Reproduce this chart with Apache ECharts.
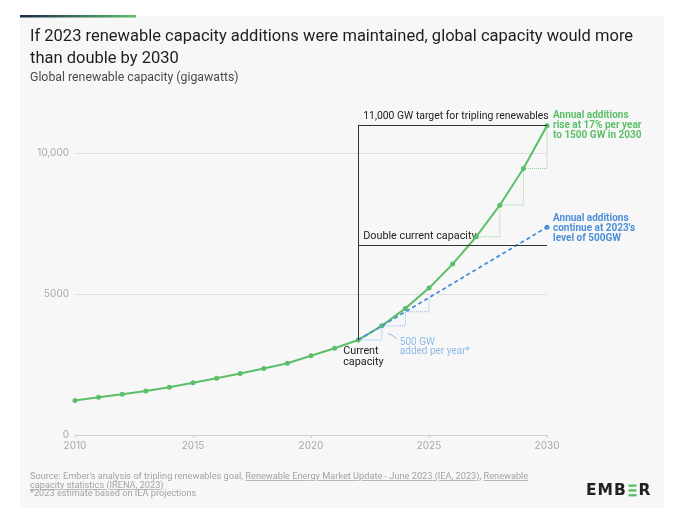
<!DOCTYPE html>
<html>
<head>
<meta charset="utf-8">
<script src="https://cdn.jsdelivr.net/npm/echarts@6/dist/echarts.min.js"></script>
<style>
  html, body { margin: 0; padding: 0; background: #ffffff; }
  #chart { width: 680px; height: 523px; position: relative; }
  #foot {
    position: absolute; left: 30px; top: 472px; white-space: nowrap;
    font: 9.2px/8.5px Roboto, sans-serif; color: #a3a3a3;
  }
  #foot u { text-decoration-color: #b8b8b8; }
</style>
</head>
<body>
<div id="chart"></div>
<div id="foot">Source: Ember's analysis of tripling renewables goal, <u>Renewable Energy Market Update - June 2023 (IEA, 2023)</u>, <u>Renewable<br>capacity statistics (IRENA, 2023)</u><br>*2023 estimate based on IEA projections</div>
<script>
// historic capacity, GW
let histYears = [2010, 2011, 2012, 2013, 2014, 2015, 2016, 2017, 2018, 2019, 2020, 2021, 2022];
let histValues = [1220, 1335, 1443, 1562, 1690, 1852, 2016, 2184, 2358, 2545, 2812, 3075, 3370];
// projections 2022..2030
let projYears = [2022, 2023, 2024, 2025, 2026, 2027, 2028, 2029, 2030];
let growthValues = [3370, 3870, 4490, 5210, 6060, 7030, 8150, 9450, 10970];
let flatValues = [3370, 3870, 4370, 4870, 5370, 5870, 6370, 6870, 7370];
let targetGW = 11000;
let currentGW = 3370;
let doubleGW = 6740;
let yTicks = [0, 5000, 10000];

let green = '#5bbf6a';
let blue = '#4a8fd8';
let lightBlue = '#8fbbe8';
let font = 'Roboto, sans-serif';

let pairs = (xs, ys) => xs.map((x, i) => [x, ys[i]]);
let greenData = pairs(histYears, histValues).concat(pairs(projYears.slice(1), growthValues.slice(1)));
let flatData = pairs(projYears, flatValues);
let greenSteps = pairs(projYears.slice(5), growthValues.slice(5));
let blueSteps = pairs(projYears.slice(0, 4), flatValues.slice(0, 4));

let chart = echarts.init(document.getElementById('chart'));

let option = {
  animation: false,
  grid: { left: 75, right: 133, top: 110.7, bottom: 88 },
  xAxis: {
    type: 'value', min: 2010, max: 2030, interval: 5,
    axisLine: { lineStyle: { color: '#cfcfcf' } },
    axisTick: { show: true, length: 3, lineStyle: { color: '#cfcfcf' } },
    axisLabel: { color: '#a8a8a8', fontSize: 10, fontFamily: 'Inter, sans-serif', margin: 6, formatter: (v) => String(v) },
    splitLine: { show: false }
  },
  yAxis: {
    type: 'value', min: 0, max: 11500, interval: 5000,
    axisLine: { show: false }, axisTick: { show: false },
    axisLabel: {
      color: '#a8a8a8', fontSize: 10, fontFamily: 'Inter, sans-serif', margin: 6,
      formatter: (v) => yTicks.indexOf(v) < 0 ? '' : (v >= 10000 ? v.toLocaleString('en-US') : String(v))
    },
    splitLine: { lineStyle: { color: ['#dedede', '#dedede', '#dedede', 'rgba(0,0,0,0)'], width: 1 } }
  },
  series: [
    {
      type: 'line', data: greenSteps, step: 'end', symbol: 'none', silent: true,
      lineStyle: { color: '#8ed49a', width: 1, type: 'dotted' }, z: 1
    },
    {
      type: 'line', data: blueSteps, step: 'end', symbol: 'none', silent: true,
      lineStyle: { color: lightBlue, width: 1, type: 'dotted' }, z: 1
    },
    {
      type: 'line', data: greenData, symbol: 'circle', symbolSize: 5, clip: false,
      itemStyle: { color: green }, lineStyle: { color: green, width: 2 }, z: 3,
      markLine: {
        silent: true, symbol: 'none', label: { show: false },
        lineStyle: { color: '#333333', width: 1, type: 'solid' },
        data: [
          [{ coord: [projYears[0], currentGW] }, { coord: [projYears[0], targetGW] }],
          [{ coord: [projYears[0], targetGW] }, { coord: [2030, targetGW] }],
          [{ coord: [projYears[0], doubleGW] }, { coord: [2030, doubleGW] }]
        ]
      }
    },
    {
      type: 'line', data: flatData, clip: false, symbol: 'circle',
      symbolSize: (v, p) => p.dataIndex === flatData.length - 1 ? 5 : 0,
      itemStyle: { color: blue }, lineStyle: { color: blue, width: 1.8, type: [4, 3] }, z: 4
    }
  ]
};
chart.setOption(option);

let px = (x, y) => chart.convertToPixel({ gridIndex: 0 }, [x, y]);
let pTarget = px(2022, targetGW);
let pDouble = px(2022, doubleGW);
let pCurrent = px(2022, currentGW);
let pGreenEnd = px(2030, growthValues[growthValues.length - 1]);
let pBlueEnd = px(2030, flatValues[flatValues.length - 1]);
let p2023 = px(2023, flatValues[1]);

let txt = (x, y, text, style) => ({
  type: 'text', x: x, y: y, silent: true,
  style: Object.assign({ text: text, font: '10.8px ' + font, fill: '#222', verticalAlign: 'middle' }, style)
});
let logoFont = 'bold 15.5px "DejaVu Sans"';
let bar = (y) => ({ type: 'rect', shape: { x: 628.5, y: y, width: 8, height: 2.3 }, style: { fill: '#5bbf6a' } });

chart.setOption({
  graphic: [
    { type: 'rect', shape: { x: 20, y: 16, width: 644, height: 492 }, style: { fill: '#f7f7f7' }, z: -10 },
    {
      type: 'rect', shape: { x: 20, y: 15, width: 116, height: 2.5 }, z: -9,
      style: { fill: new echarts.graphic.LinearGradient(0, 0, 1, 0, [{ offset: 0, color: '#1b2a4e' }, { offset: 1, color: '#5bbf6a' }]) }
    },
    txt(30, 26, 'If 2023 renewable capacity additions were maintained, global capacity would more\nthan double by 2030',
      { font: '16.5px ' + font, fill: '#1e1e1e', lineHeight: 22, verticalAlign: 'top' }),
    txt(30, 78, 'Global renewable capacity (gigawatts)', { font: '12.3px ' + font, fill: '#4a4a4a' }),

    txt(pTarget[0] + 5, pTarget[1] - 8.5, '11,000 GW target for tripling renewables', { font: '10.4px ' + font }),
    txt(pDouble[0] + 5, pDouble[1] - 8.5, 'Double current capacity'),
    txt(pCurrent[0] - 15, pCurrent[1] + 17, 'Current\ncapacity', { lineHeight: 11 }),
    txt(pGreenEnd[0] + 6, pGreenEnd[1] - 0.5, 'Annual additions\nrise at 17% per year\nto 1500 GW in 2030',
      { font: 'bold 10px ' + font, fill: green, lineHeight: 10 }),
    txt(pBlueEnd[0] + 6, pBlueEnd[1] + 1, 'Annual additions\ncontinue at 2023\'s\nlevel of 500GW',
      { font: 'bold 10px ' + font, fill: blue, lineHeight: 10 }),
    txt(p2023[0] + 18, p2023[1] + 21, '500 GW\nadded per year*', { font: '10px ' + font, fill: lightBlue, lineHeight: 9 }),
    {
      type: 'bezierCurve', silent: true,
      shape: { x1: p2023[0] + 6, y1: p2023[1] + 8, x2: p2023[0] + 15, y2: p2023[1] + 13, cpx1: p2023[0] + 10, cpy1: p2023[1] + 8 },
      style: { stroke: lightBlue, lineWidth: 1, fill: null }
    },

    // logo
    txt(586, 490.5, 'E', { font: logoFont, fill: '#222' }),
    txt(597.5, 490.5, 'M', { font: logoFont, fill: '#222' }),
    txt(614, 490.5, 'B', { font: logoFont, fill: '#222' }),
    bar(484.5), bar(489.3), bar(494.1),
    txt(638.5, 490.5, 'R', { font: logoFont, fill: '#222' })
  ]
});
</script>
</body>
</html>
